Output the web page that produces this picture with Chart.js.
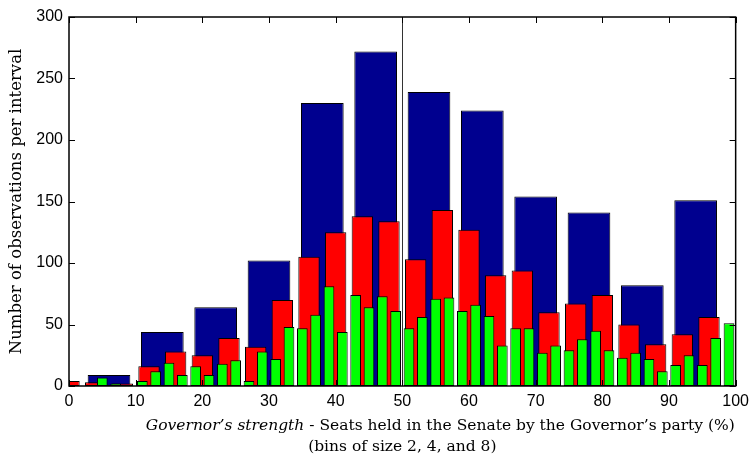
<!DOCTYPE html>
<html>
<head>
<meta charset="utf-8">
<script src="https://cdn.jsdelivr.net/npm/chart.js@4"></script>
<style>
    body { margin: 0; background: #fff; }
    #wrap { width: 755px; height: 456px; position: relative; }
</style>
</head>
<body>
<div id="wrap"><canvas id="hist"></canvas></div>
<script>
// bin centres (%) and counts for the three bin sizes
const centers8 = [6, 14, 22, 30, 38, 46, 54, 62, 70, 78, 86, 94];
const counts8 = [9, 44, 64, 102, 230, 272, 239, 224, 154, 141, 82, 151];

const centers4 = [0, 4, 8, 12, 16, 20, 24, 28, 32, 36, 40, 44, 48, 52, 56, 60, 64, 68, 72, 76, 80, 84, 88, 92, 96];
const counts4 = [4, 3, 2, 16, 28, 25, 39, 32, 70, 105, 125, 138, 134, 103, 143, 127, 90, 94, 60, 67, 74, 50, 34, 42, 56];

const centers2 = [1, 3, 5, 7, 9, 11, 13, 15, 17, 19, 21, 23, 25, 27, 29, 31, 33, 35, 37, 39, 41, 43, 45, 47, 49,
                  51, 53, 55, 57, 59, 61, 63, 65, 67, 69, 71, 73, 75, 77, 79, 81, 83, 85, 87, 89, 91, 93, 95, 97, 99];
const counts2 = [0, 0, 7, 2, 0, 4, 12, 19, 9, 16, 9, 18, 21, 4, 28, 22, 48, 47, 58, 81, 44, 74, 64, 73, 61,
                 47, 56, 71, 72, 61, 66, 57, 33, 47, 47, 27, 33, 29, 38, 45, 29, 23, 27, 22, 12, 17, 25, 17, 39, 51];

const xTicks = [0, 10, 20, 30, 40, 50, 60, 70, 80, 90, 100];
const yTicks = [0, 50, 100, 150, 200, 250, 300];
const markerX = 50;

function toPoints(xs, ys) {
    const pts = [];
    for (let i = 0; i < xs.length; i++) {
        pts.push({ x: xs[i], y: ys[i] });
    }
    return pts;
}

// vertical line at 50% plus the boxed frame with inner ticks
const framePlugin = {
    id: 'frame',
    beforeDatasetsDraw(chart) {
        const ctx = chart.ctx;
        const area = chart.chartArea;
        const px = chart.scales.x.getPixelForValue(markerX);
        ctx.save();
        ctx.strokeStyle = '#333';
        ctx.lineWidth = 1;
        ctx.beginPath();
        ctx.moveTo(Math.round(px) + 0.5, area.top);
        ctx.lineTo(Math.round(px) + 0.5, area.bottom);
        ctx.stroke();
        ctx.restore();
    },
    afterDatasetsDraw(chart) {
        const ctx = chart.ctx;
        const a = chart.chartArea;
        const xs = chart.scales.x;
        const ys = chart.scales.y;
        const len = 6;
        ctx.save();
        ctx.strokeStyle = '#000';
        ctx.lineWidth = 1;
        ctx.beginPath();
        xTicks.forEach(v => {
            const p = Math.round(xs.getPixelForValue(v)) + 0.5;
            ctx.moveTo(p, a.bottom); ctx.lineTo(p, a.bottom - len);
            ctx.moveTo(p, a.top); ctx.lineTo(p, a.top + len);
        });
        yTicks.forEach(v => {
            const p = Math.round(ys.getPixelForValue(v)) + 0.5;
            ctx.moveTo(a.left, p); ctx.lineTo(a.left + len, p);
            ctx.moveTo(a.right, p); ctx.lineTo(a.right - len, p);
        });
        ctx.stroke();
        ctx.lineWidth = 1.5;
        ctx.strokeRect(a.left, a.top, a.right - a.left, a.bottom - a.top);

        // x-axis title, first part in italics
        const serif = '"DejaVu Serif", serif';
        const part1 = 'Governor\u2019s strength';
        const part2 = ' - Seats held in the Senate by the Governor\u2019s party (%)';
        ctx.fillStyle = '#000';
        ctx.textBaseline = 'middle';
        ctx.font = 'italic 15.5px ' + serif;
        const w1 = ctx.measureText(part1).width;
        ctx.font = '15.5px ' + serif;
        const w2 = ctx.measureText(part2).width;
        const cx = (a.left + a.right) / 2 + 38;
        let x0 = cx - (w1 + w2) / 2;
        ctx.textAlign = 'left';
        ctx.font = 'italic 15.5px ' + serif;
        ctx.fillText(part1, x0, a.bottom + 40);
        ctx.font = '15.5px ' + serif;
        ctx.fillText(part2, x0 + w1, a.bottom + 40);
        ctx.textAlign = 'center';
        ctx.fillText('(bins of size 2, 4, and 8)', (a.left + a.right) / 2, a.bottom + 61);
        ctx.restore();
    }
};

const ctx = document.getElementById('hist').getContext('2d');
new Chart(ctx, {
    type: 'bar',
    data: {
        datasets: [
            {
                data: toPoints(centers8, counts8),
                xAxisID: 'x8',
                backgroundColor: '#00008F',
                borderColor: '#000',
                borderWidth: 1,
                borderSkipped: false,
                order: 3
            },
            {
                data: toPoints(centers4, counts4),
                xAxisID: 'x4',
                backgroundColor: '#FF0000',
                borderColor: '#000',
                borderWidth: 1,
                borderSkipped: false,
                order: 2
            },
            {
                data: toPoints(centers2, counts2),
                xAxisID: 'x',
                backgroundColor: '#00FF00',
                borderColor: '#000',
                borderWidth: 1,
                borderSkipped: false,
                order: 1
            }
        ]
    },
    options: {
        responsive: true,
        maintainAspectRatio: false,
        animation: false,
        events: [],
        grouped: false,
        categoryPercentage: 1,
        barPercentage: 0.8,
        layout: {
            padding: { left: 0, top: 17, right: 15, bottom: 0 }
        },
        plugins: {
            legend: { display: false },
            tooltip: { enabled: false }
        },
        scales: {
            x: {
                type: 'linear',
                min: 0,
                max: 100,
                offset: false,
                grid: { display: false, drawTicks: false },
                border: { display: false },
                ticks: {
                    stepSize: 10,
                    padding: 6,
                    color: '#000',
                    font: { family: '"Liberation Sans", Arial, sans-serif', size: 16 }
                },
                afterFit: (scale) => { scale.height = 70; }
            },
            x4: {
                type: 'linear',
                display: false,
                min: 0,
                max: 100,
                offset: false,
                ticks: { stepSize: 50 }
            },
            x8: {
                type: 'linear',
                display: false,
                min: 0,
                max: 100,
                offset: false,
                ticks: { stepSize: 50 }
            },
            y: {
                min: 0,
                max: 300,
                grid: { display: false, drawTicks: false },
                border: { display: false },
                ticks: {
                    stepSize: 50,
                    padding: 6,
                    color: '#000',
                    font: { family: '"Liberation Sans", Arial, sans-serif', size: 16 }
                },
                title: {
                    display: true,
                    text: 'Number of observations per interval',
                    color: '#000',
                    padding: { top: 7, bottom: 0 },
                    font: { family: '"DejaVu Serif", serif', size: 16.5 }
                },
                afterFit: (scale) => { scale.width = 69; }
            }
        }
    },
    plugins: [framePlugin]
});
</script>
</body>
</html>
